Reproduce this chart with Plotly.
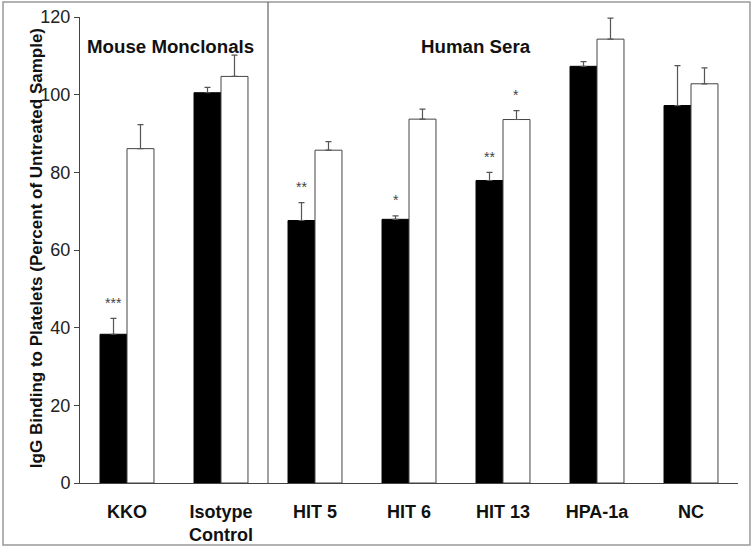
import plotly.graph_objects as go

categories = ["KKO", "Isotype<br>Control", "HIT 5", "HIT 6", "HIT 13", "HPA-1a", "NC"]
untreated_vals = [38.3, 100.5, 67.6, 67.9, 77.9, 107.3, 97.2]
untreated_err = [4.1, 1.4, 4.6, 0.9, 2.1, 1.2, 10.3]
treated_vals = [86.1, 104.7, 85.7, 93.7, 93.6, 114.3, 102.8]
treated_err = [6.2, 5.5, 2.2, 2.6, 2.3, 5.4, 4.1]
untreated_stars = ["***", "", "**", "*", "**", "", ""]
treated_stars = ["", "", "", "", "*", "", ""]
group_labels = ["Mouse Monclonals", "Human Sera"]
y_ticks = [0, 20, 40, 60, 80, 100, 120]

FONT = "Arial, Liberation Sans, sans-serif"
idx = list(range(len(categories)))

fig = go.Figure()
fig.add_trace(go.Bar(
    x=idx, y=untreated_vals, name="untreated",
    marker=dict(color="#000000", line=dict(color="#000000", width=1)),
    error_y=dict(type="data", array=untreated_err, arrayminus=[0]*7, symmetric=False,
                 color="#555555", thickness=1.2, width=3),
))
fig.add_trace(go.Bar(
    x=idx, y=treated_vals, name="treated",
    marker=dict(color="#ffffff", line=dict(color="#444444", width=1)),
    error_y=dict(type="data", array=treated_err, arrayminus=[0]*7, symmetric=False,
                 color="#555555", thickness=1.2, width=3),
))

off = 0.143
annotations = []
for i in idx:
    if untreated_stars[i]:
        annotations.append(dict(x=i - off, y=untreated_vals[i] + untreated_err[i] + 1.5,
                                xref="x", yref="y", text=untreated_stars[i], showarrow=False,
                                yanchor="bottom", font=dict(family=FONT, size=14, color="#444")))
    if treated_stars[i]:
        annotations.append(dict(x=i + off, y=treated_vals[i] + treated_err[i] + 1.5,
                                xref="x", yref="y", text=treated_stars[i], showarrow=False,
                                yanchor="bottom", font=dict(family=FONT, size=14, color="#444")))

annotations.append(dict(x=0.46, y=112.5, xref="x", yref="y", text="<b>" + group_labels[0] + "</b>",
                        showarrow=False, font=dict(family=FONT, size=18.7, color="#111")))
annotations.append(dict(x=3.71, y=112.5, xref="x", yref="y", text="<b>" + group_labels[1] + "</b>",
                        showarrow=False, font=dict(family=FONT, size=18.7, color="#111")))
annotations.append(dict(x=-0.0836, y=0.505, xref="paper", yref="paper", textangle=-90,
                        text="<b>IgG Binding to Platelets (Percent of Untreated Sample)</b>",
                        showarrow=False, font=dict(family=FONT, size=17, color="#111")))

fig.update_layout(
    width=753, height=547,
    margin=dict(l=80, r=15, t=17, b=64, autoexpand=False),
    paper_bgcolor="white", plot_bgcolor="white",
    barmode="group", bargap=0.426, bargroupgap=0,
    showlegend=False,
    font=dict(family=FONT, color="#111"),
    annotations=annotations,
    shapes=[
        dict(type="rect", xref="paper", yref="paper", x0=-0.117, x1=1.0182, y0=-0.133, y1=1.032,
             line=dict(color="#999999", width=1.5)),
        dict(type="line", xref="x", yref="paper", x0=1.5, x1=1.5, y0=0, y1=1.032,
             line=dict(color="#444444", width=1)),
    ],
)
fig.update_xaxes(
    range=[-0.5, 6.5], tickmode="array", tickvals=idx,
    ticktext=["<b>" + c + "</b>" for c in categories],
    tickfont=dict(family=FONT, size=18, color="#111"),
    showline=True, linecolor="#444444", linewidth=1, automargin=False,
    ticks="", ticklabelstandoff=12, showgrid=False, zeroline=False,
)
fig.update_yaxes(
    range=[0, 120], tickvals=y_ticks, automargin=False,
    tickfont=dict(family=FONT, size=18, color="#222"),
    showline=True, linecolor="#444444", linewidth=1,
    ticks="outside", ticklen=5, tickcolor="#444444",
    showgrid=False, zeroline=False,
)

fig.write_html("out.html", config={"displayModeBar": False},
               post_script="document.body.style.margin='0';document.body.style.padding='0';document.body.style.overflow='hidden';")
